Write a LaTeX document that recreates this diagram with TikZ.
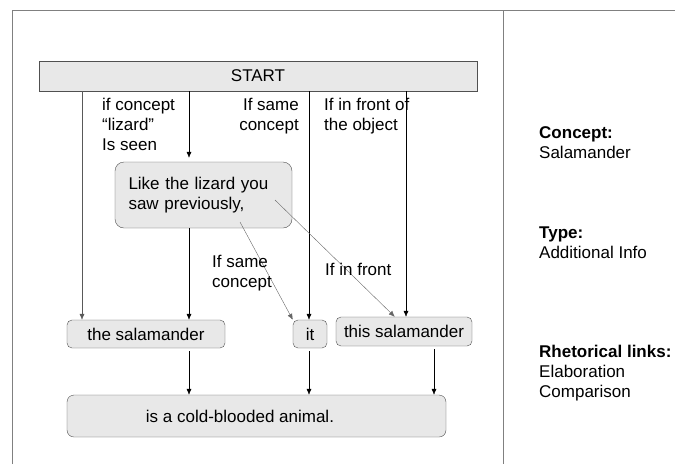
\documentclass[tikz,border=0pt]{standalone}
\usepackage{fontspec}
\setmainfont{Liberation Sans}
\usetikzlibrary{arrows.meta,positioning,calc}

\definecolor{boxfill}{HTML}{E8E8E8}
\definecolor{boxline}{HTML}{505050}
\definecolor{frameline}{HTML}{808080}

\tikzset{
  box/.style={draw=boxline, fill=boxfill, rounded corners=5pt, inner sep=0pt},
  arr/.style={-{Latex[length=6pt,width=5pt]}, black},
  link/.style={-{Latex[length=6pt,width=5pt]}, black!60},
  lbl/.style={inner sep=0pt, align=left},
}

\begin{document}
\begin{tikzpicture}[x=1pt, y=-1pt, font=\fontsize{17}{20}\selectfont]
    \useasboundingbox (0,0) rectangle (675,464);
    \draw[frameline, line width=1pt] (12,464) -- (12,10) -- (675,10);
    \draw[frameline, line width=1pt] (503,10) -- (503,464);

    % Boxes
    \node[draw=boxline, fill=boxfill, inner sep=0pt, minimum width=438pt, minimum height=30pt, font=\fontsize{17}{20}\selectfont] (start) at (258,76) {START};
    \node[box, rounded corners=9pt, minimum width=177pt, minimum height=66pt, align=left, text width=150pt] (like) at (203.5,195) {Like the lizard you\\saw previously,};
    \node[box, minimum width=158pt, minimum height=28pt] (thesal) at (146,334) {the salamander};
    \node[box, minimum width=34pt, minimum height=28pt] (it) at (310,334) {it};
    \node[box, minimum width=136pt, minimum height=29pt] (thissal) at (404,331.5) {this salamander};
    \node[box, rounded corners=7pt, minimum width=379pt, minimum height=42pt] (big) at (256.5,416) {is a cold-blooded animal.\hspace*{33pt}};

    \coordinate (colA) at (82,0);
    \coordinate (colB) at (189,0);
    \coordinate (colC) at (309,0);
    \coordinate (colD) at (406,0);
    \coordinate (colE) at (434,0);
    \coordinate (d1) at (240,222);
    \coordinate (d2) at (275,200);

    % Arrows
    \draw[arr, black!65] (start.south -| colA) -- (thesal.north -| colA);
    \draw[arr, shorten >=4pt] (start.south -| colB) -- (like.north -| colB);
    \draw[arr] (start.south -| colC) -- (it.north -| colC);
    \draw[arr] (start.south -| colD) -- (thissal.north -| colD);
    \draw[arr] (like.south -| colB) -- (thesal.north -| colB);
    \draw[arr, shorten <=3pt] (thesal.south -| colB) -- (big.north -| colB);
    \draw[arr, shorten <=3pt] (it.south -| colC) -- (big.north -| colC);
    \draw[arr, shorten <=3pt] (thissal.south -| colE) -- (big.north -| colE);
    \draw[link] (d1) -- (it.north west);
    \draw[link] (d2) -- ($(thissal.north west)+(59,0)$);

    % Conditions
    \node[lbl, anchor=north west] (cond1) at (102,97.5) {if concept\\“lizard”\\Is seen};
    \node[lbl, anchor=north east, align=right] (cond2) at (299,97.5) {If same\\concept};
    \node[lbl, anchor=north west] (cond3) at (324,97.5) {If in front of\\the object};
    \node[lbl, anchor=north west] (cond4) at (212,254.5) {If same\\concept};
    \node[lbl, anchor=base west] (cond5) at (325,275) {If in front};

    % Annotations
    \node[lbl, anchor=north west] (concept) at (539,126) {\textbf{Concept:}\\Salamander};
    \node[lbl, anchor=north west] (type) at (539,227) {\textbf{Type:}\\Additional Info};
    \node[lbl, anchor=north west] (rhet) at (539,344.5) {\textbf{Rhetorical links:}\\Elaboration\\Comparison};
\end{tikzpicture}
\end{document}
